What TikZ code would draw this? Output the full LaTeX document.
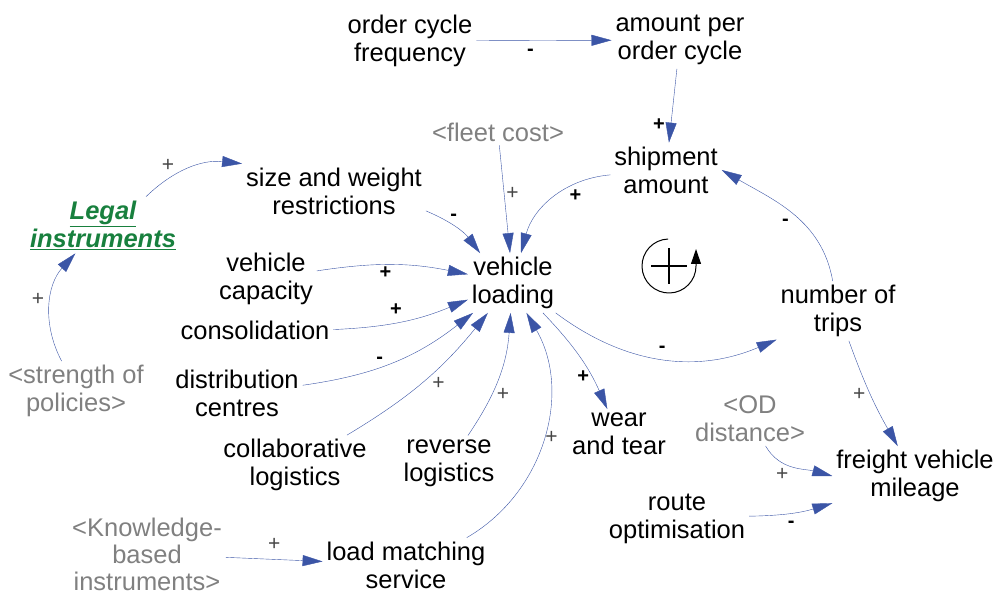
\documentclass[tikz,border=0pt]{standalone}
\usepackage{fontspec}
\setmainfont{Liberation Sans}
\usetikzlibrary{positioning, arrows.meta}
\definecolor{linkblue}{RGB}{59,85,166}
\definecolor{shadowgray}{RGB}{128,128,128}
\definecolor{legalgreen}{RGB}{24,128,62}
\definecolor{poldark}{RGB}{70,70,70}
\tikzset{
  -{Triangle[length=20pt,width=11pt]}, line width=0.9pt,
  var/.style={align=center, inner sep=1pt, outer sep=3pt,
    font=\fontsize{25.5}{28}\selectfont},
  shadowvar/.style={var, text=shadowgray},
  link/.style={color=linkblue},
  pol/.style={font=\fontsize{20}{20}\selectfont\bfseries, inner sep=2pt, text=black},
  polt/.style={font=\fontsize{21}{21}\selectfont, inner sep=2pt, text=poldark}
}
\begin{document}
\begin{tikzpicture}[x=1pt, y=1pt]
    \useasboundingbox (0,0) rectangle (995,594);

    \node[var] (freq) at (410,553) {order cycle\\frequency};
    \node[var] (amount) at (680,554) {amount per\\order cycle};
    \node[shadowvar] (fleet) at (498,462) {<fleet cost>};
    \node[var] (ship) at (666,424) {shipment\\amount};
    \node[var] (size) at (334,403) {size and weight\\restrictions};
    \node[var, text=legalgreen, font=\fontsize{25.5}{28}\selectfont\bfseries\itshape]
      (legal) at (103,369) {\underline{Legal}\\\underline{instruments}};
    \node[var] (cap) at (266,315) {vehicle\\capacity};
    \node[var] (load) at (513,311) {vehicle\\loading};
    \node[var] (cons) at (255,264) {consolidation};
    \node[var] (trips) at (838,283) {number of\\trips};
    \node[shadowvar] (strength) at (76,203) {<strength of\\policies>};
    \node[var] (dist) at (237,201) {distribution\\centres};
    \node[var] (wear) at (619,160) {wear\\and tear};
    \node[shadowvar] (od) at (750,175) {<OD\\distance>};
    \node[var] (collab) at (295,129) {collaborative\\logistics};
    \node[var] (reverse) at (449,131) {reverse\\logistics};
    \node[var] (mileage) at (915,118) {freight vehicle\\mileage};
    \node[var] (route) at (677,75) {route\\optimisation};
    \node[shadowvar, font=\fontsize{25.5}{27}\selectfont]
      (know) at (147,40) {<Knowledge-\\based\\instruments>};
    \node[var] (match) at (406,29) {load matching\\service};

    % reinforcing loop marker
    \coordinate (loop) at (669,328);
    \draw[-{Triangle[length=15pt,width=10pt]}, line width=1pt]
      ([shift={(92:27)}]loop) arc[start angle=92, end angle=360, radius=27] -- ++(0,17);
    \draw[-, line width=2pt] ([xshift=-18pt]loop) -- ([xshift=18pt]loop)
      ([yshift=-18pt]loop) -- ([yshift=18pt]loop);

    \path[link]
      (freq)     edge node[pol, below=6pt, pos=.4] {-}                 (amount)
      (amount)   edge node[pol, left=4pt, pos=.75] {+}                 (ship)
      (ship)     edge[out=185, in=75] node[pol, below right, pos=.35] {+} (load)
      (fleet)    edge node[polt, right, pos=.45] {+}                   (load)
      (size)     edge[bend left=15] node[pol, above right, pos=.35] {-} (load)
      (legal)    edge[bend left=25] node[polt, above left, pos=.35] {+} (size)
      (strength) edge[bend left=35] node[polt, left=5pt, pos=.55] {+}  (legal)
      (cap)      edge[bend left=10] node[pol, below, pos=.45] {+}      (load)
      (cons)     edge[bend right=10] node[pol, above=5pt, pos=.45] {+} (load)
      (dist)     edge[bend right=15] node[pol, above left, pos=.45] {-} (load)
      (collab)   edge[bend right=10] node[polt, below right, pos=.55] {+} (load)
      (reverse)  edge[bend right=15] node[polt, right=3pt, pos=.35] {+} (load)
      (match)    edge[bend right=45] node[polt, right, pos=.5] {+}     (load)
      (know)     edge node[polt, above=7pt] {+}                        (match)
      (load)     edge[bend left=10] node[pol, left, pos=.7] {+}        (wear)
      (load)     edge[bend right=30] node[pol, above=4pt, pos=.5] {-}  (trips)
      (trips.100) edge[out=100, in=-30] node[pol, below left=3pt, pos=.5] {-} (ship.east)
      (trips)    edge[bend right=5] node[polt, left=3pt, pos=.5] {+}   (mileage)
      (od.300)   edge[out=-60, in=165] node[polt, below left, pos=.45] {+} (mileage.west)
      (route)    edge[bend right=8] node[pol, below=6pt, pos=.5] {-}   (mileage);
\end{tikzpicture}
\end{document}
